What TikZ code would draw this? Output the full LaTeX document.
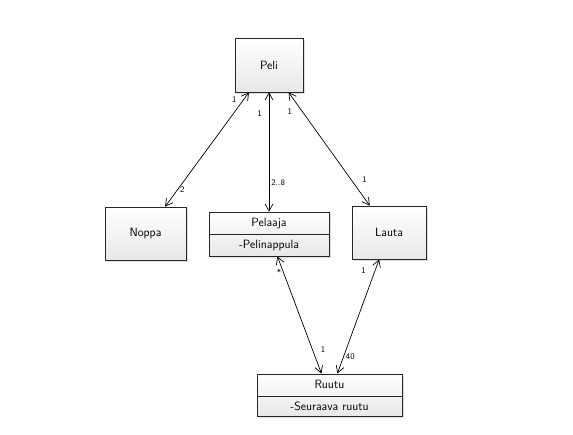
\documentclass[tikz,border=0pt]{standalone}
\usetikzlibrary{shapes.multipart,shadows,arrows.meta}
\tikzset{
  luokka/.style={draw=black!85, line width=0.7pt, top color=white, bottom color=gray!18,
    drop shadow={shadow xshift=2pt, shadow yshift=-2pt, opacity=0.25},
    font=\sffamily\fontsize{12}{14}\selectfont},
  jaettu/.style={luokka, rectangle split, rectangle split parts=2,
    text height=9pt, text depth=3pt, inner ysep=5pt},
  kerroin/.style={font=\sffamily\fontsize{8.5}{10}\selectfont, inner sep=2pt},
}
\begin{document}
\begin{tikzpicture}[x=1pt,y=-1pt]
      \useasboundingbox (0,0) rectangle (573,435);
      \draw
        (269,65) node[luokka, minimum width=68pt, minimum height=54pt] (peli){Peli}
        (145.5,233.5) node[luokka, minimum width=81pt, minimum height=53pt] (noppa){Noppa}
        (389,232.5) node[luokka, minimum width=74pt, minimum height=53pt] (lauta){Lauta}
        (269,234) node[jaettu, minimum width=120pt] (pelaaja){Pelaaja\nodepart{two}-Pelinappula}
        (329.5,395) node[jaettu, minimum width=145pt] (ruutu){Ruutu\nodepart{two}-Seuraava ruutu};
      \begin{scope}[<->, >={Straight Barb[length=7pt,width=8pt]}, line width=0.7pt, every node/.style=kerroin]
        \draw (peli) to node[pos=0.06, left=5pt]{1} node[pos=0.85, right]{2} (noppa);
        \draw (peli) to node[pos=0.18, left=5pt]{1} node[pos=0.76, right]{2..8} (pelaaja);
        \draw (peli) to node[pos=0.17, left=8pt]{1} node[pos=0.77, right=9pt]{1} (lauta);
        \draw (pelaaja) to node[pos=0.14, left]{*} node[pos=0.8, right=6pt]{1} (ruutu);
        \draw (lauta) to node[pos=0.1, left=7pt]{1} node[pos=0.85, right]{40} (ruutu);
      \end{scope}
    \end{tikzpicture}
\end{document}
